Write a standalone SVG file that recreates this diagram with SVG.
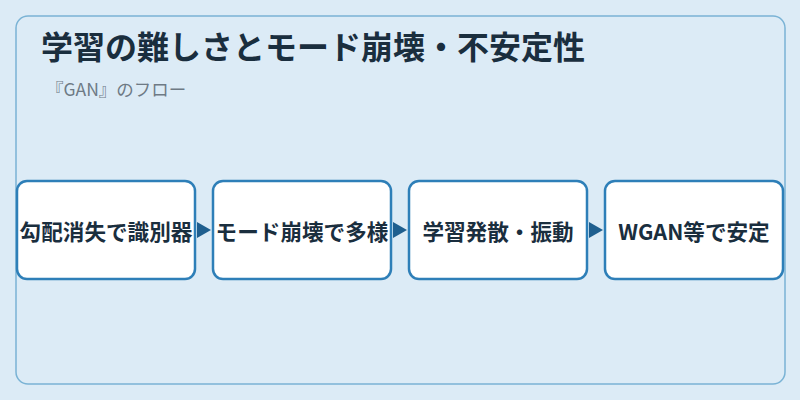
<svg xmlns="http://www.w3.org/2000/svg" width="800" height="400" viewBox="0 0 800 400">
<defs>
<style>
.bg{fill:#dcebf6}
.panel{fill:#dcebf6;stroke:#7ab3d5;stroke-width:1.5}
.node rect{fill:#ffffff;stroke:#2e7fb8;stroke-width:2.5}
.node text{font-family:"Noto Sans CJK JP","Noto Sans",sans-serif;font-weight:bold;font-size:21.6px;fill:#1a2e3e;text-anchor:middle;dominant-baseline:central}
.title{font-family:"Noto Sans CJK JP","Noto Sans",sans-serif;font-weight:bold;font-size:32px;fill:#1a2e3e}
.sub{font-family:"Noto Sans CJK JP","Noto Sans",sans-serif;font-size:17.5px;fill:#6e7a85}
.arrow{fill:#1f5f8f}
</style>
</defs>
<rect class="bg" x="0" y="0" width="800" height="400"/>
<rect class="panel" x="16" y="16" width="769" height="368" rx="12"/>
<text class="title" x="41" y="59">学習の難しさとモード崩壊・不安定性</text>
<text class="sub" x="46" y="96">『GAN』のフロー</text>
<g id="connectors">
<polygon class="arrow" points="197,222 211,230 197,238"/>
<polygon class="arrow" points="393,222 407,230 393,238"/>
<polygon class="arrow" points="589,222 603,230 589,238"/>
</g>
<g id="node1" class="node"><rect x="17" y="181" width="178" height="98" rx="10"/><text x="106" y="230">勾配消失で識別器</text></g>
<g id="node2" class="node"><rect x="213" y="181" width="178" height="98" rx="10"/><text x="302" y="230">モード崩壊で多様</text></g>
<g id="node3" class="node"><rect x="409" y="181" width="178" height="98" rx="10"/><text x="498" y="230">学習発散・振動</text></g>
<g id="node4" class="node"><rect x="605" y="181" width="178" height="98" rx="10"/><text x="694" y="230">WGAN等で安定</text></g>
</svg>
